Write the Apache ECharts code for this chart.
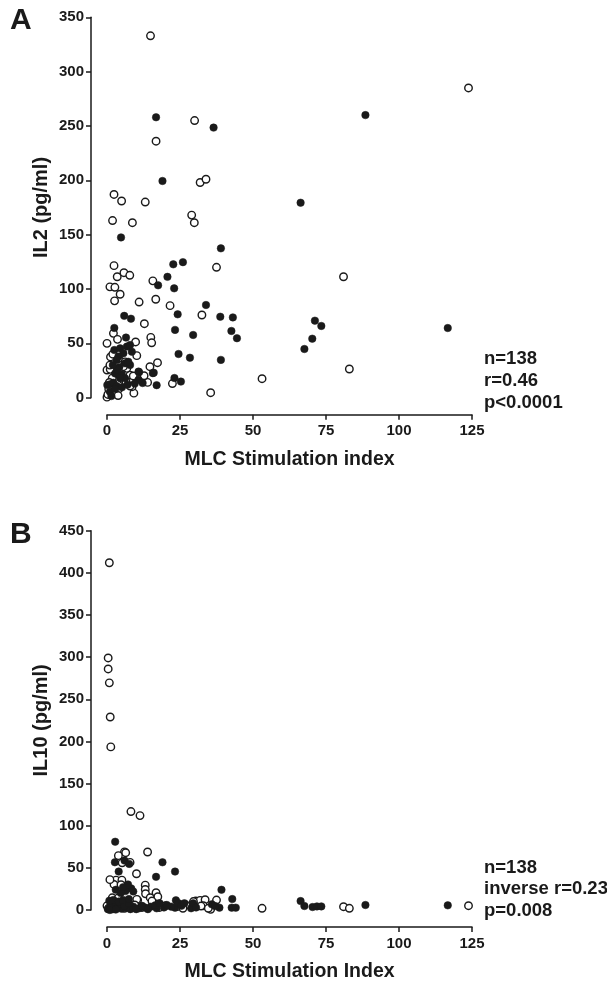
<!DOCTYPE html>
<html>
<head>
<meta charset="utf-8">
<script src="https://cdn.jsdelivr.net/npm/echarts@6/dist/echarts.min.js"></script>
<style>
html,body{margin:0;padding:0;background:#fff;}
#chart{width:607px;height:983px;}
</style>
</head>
<body>
<div id="chart"></div>
<script>
// ---------- Data ----------
const xTicks = [0, 25, 50, 75, 100, 125];
const il2Ticks = [0, 50, 100, 150, 200, 250, 300, 350];
const il10Ticks = [0, 50, 100, 150, 200, 250, 300, 350, 400, 450];

// Panel A: IL2 vs MLC stimulation index
const il2Open = [
  [14.9,333],[123.8,285],[30,255],[16.8,236],[31.9,198],[33.9,201],[2.4,187],[5,181],[13.1,180],
  [1.9,163],[8.7,161],[29,168],[29.9,161],[2.4,121.5],[37.5,120],[3.5,111.3],[5.8,115],[7.8,112.6],
  [81,111.3],[1,102],[2.7,101.6],[15.7,107.5],[4.5,95.2],[2.6,89.1],[16.7,90.6],[11,88],[21.6,84.7],
  [32.5,76.1],[12.8,68.1],[2.2,59.2],[3.6,53.7],[0,50],[9.8,51.3],[15,55.5],[15.3,50.5],[1.2,37.5],
  [10.2,38.7],[17.3,32.2],[0,25.5],[14.7,28.5],[83,26.4],[53.1,17.5],[22.4,13],[13.9,14.1],[35.5,4.6],
  [9.2,4.2],[8.6,10.1],[0,0.5],[0.3,3],[0.6,8],[7.9,10.7],[5.4,16.8],[7.9,20.8],[12.7,20.2],[6.8,27],
  [5.6,28.5],[1.1,26.1],[2,40],[4,36],[6.2,33],[1,30],[3,22],[1.8,18],[9,20],[2,5],[4,8],[6.5,15],
  [0.8,14],[3.8,2]
];
const il2Filled = [
  [88.5,260],[16.8,258],[36.5,248.5],[19,199.4],[66.3,179.4],[4.8,147.5],[39,137.4],[26,124.7],
  [22.7,122.7],[20.7,111.2],[17.5,103.4],[23,100.6],[33.9,85.3],[24.2,76.7],[5.9,75.3],[8.2,72.7],
  [38.8,74.5],[43.1,73.9],[71.2,70.9],[73.4,66],[116.7,64.1],[2.5,64.2],[23.3,62.4],[42.6,61.4],
  [29.5,57.7],[44.5,54.7],[6.5,55.3],[70.3,54.3],[67.6,44.8],[24.5,40.2],[28.4,36.8],[39,34.8],
  [16,23],[11,23.5],[23.1,18.1],[25.3,14.8],[17,11.5],[12.2,13.5],[8.5,42.3],[2.5,43.9],[4.5,45.4],
  [6.8,47],[7.9,48.5],[5.6,40.8],[3.9,37.8],[3.3,34.7],[6.2,31.6],[7.9,30.1],[7.3,33.1],[10.8,24],
  [15.7,22.6],[2.8,22.3],[5.1,21.4],[6.2,17.8],[10.8,16.5],[0.1,11.7],[1.06,12.3],[2.2,13.8],
  [3.3,10.7],[5.1,9.5],[1,5.5],[2.8,8],[4.2,28],[3.5,26],[9.5,13],[1.5,1.5],[7,12],[2,30],[4.5,18]
];

// Panel B: IL10 vs MLC stimulation index
const il10Open = [
  [0.8,412],[0.4,299],[0.4,286],[0.8,269.5],[1.1,229],[1.3,193.5],[8.2,116.8],[11.3,112],[13.9,68.8],
  [6,69],[6.4,68],[3.9,64.5],[5.2,56],[7.9,56.5],[10.1,43],[3.1,35.4],[5.1,35.4],[2.4,30.3],[1,36],
  [4.8,30],[13.1,29.5],[13.1,24.4],[13.2,19.3],[16.8,20.5],[17.4,15.7],[10.5,11.8],[14.8,14.6],
  [15.4,10.6],[30.4,10.6],[31.9,11.4],[33.6,12.2],[33,5.1],[35.5,0.8],[37.5,11.8],[53.1,2],[81,3.9],
  [83,2],[123.8,5.1],[1.8,14.5],[3.9,14.5],[10.2,12.6],[29.6,10],[32.2,4.7],[34.7,2],[0,5],[0.5,2],
  [1.5,8],[2.5,3],[4,6],[6,2],[7,9],[8.5,3],[9.5,6],[12,3],[20,5],[18,3],[24,4],[27,6],[26,2]
];
const il10Filled = [
  [2.8,81],[2.7,56.6],[6,58.6],[7.6,54.7],[4,45.6],[19,56.6],[23.3,45.6],[16.8,39.3],[39.2,24],
  [42.9,13],[8.3,25.6],[6.3,22.4],[4.7,20.1],[7.2,30.3],[66.3,10.6],[67.6,4.7],[70.4,3.5],[71.9,4.3],
  [73.4,4.3],[88.5,5.9],[116.7,5.5],[23.6,11.5],[23.3,2.7],[38.5,2.8],[42.7,2.8],[44.1,2.8],[35.9,6.7],
  [37,4.7],[24.5,8],[25.5,5],[28.8,2],[29.5,8],[22,4],[19.5,3],[17,2],[15,4],[13,3],[11,2],[9,4],
  [8,1],[6.5,3],[5,1.5],[3.5,4],[2,1],[1,3],[0.3,1],[1.5,6],[3,9],[4.5,7],[6,5],[7.5,8],[10,1],
  [12,5],[14,1],[16.5,5.5],[18,8],[20.5,6],[26.5,8],[30.5,3],[0.8,11],[2.2,12],[4,10],[5.5,12],
  [7.5,13],[3,24],[5.5,27],[9,22],[1,0],[3,0.5]
];

const panelLabels = ['A', 'B'];
const xTitles = ['MLC Stimulation index', 'MLC Stimulation Index'];
const yTitles = ['IL2 (pg/ml)', 'IL10 (pg/ml)'];
const statsA = ['n=138', 'r=0.46', 'p<0.0001'];
const statsB = ['n=138', 'inverse r=0.23', 'p=0.008'];

// ---------- Chart ----------
const FONT = '"Liberation Sans", Arial, Helvetica, sans-serif';
const INK = '#1a1a1a';
const chart = echarts.init(document.getElementById('chart'), null, {renderer: 'canvas'});

function xAxisCfg(gridIndex, title) {
  return {
    type: 'value', gridIndex, min: xTicks[0], max: xTicks[xTicks.length - 1],
    interval: xTicks[1] - xTicks[0], offset: 17,
    name: title, nameLocation: 'middle', nameGap: 35, nameMoveOverlap: false,
    nameTextStyle: {fontFamily: FONT, fontWeight: 'bold', fontSize: 19.5, color: INK},
    axisLine: {show: true, onZero: false, lineStyle: {color: INK, width: 1.5}},
    axisTick: {show: true, inside: false, length: 5, lineStyle: {color: INK, width: 1.5}},
    axisLabel: {fontFamily: FONT, fontWeight: 'bold', fontSize: 15, color: INK, margin: 9},
    splitLine: {show: false}
  };
}
function yAxisCfg(gridIndex, title, ticks) {
  return {
    type: 'value', gridIndex, min: ticks[0], max: ticks[ticks.length - 1],
    interval: ticks[1] - ticks[0], offset: 16,
    name: title, nameLocation: 'middle', nameGap: 40, nameRotate: 90, nameMoveOverlap: false,
    nameTextStyle: {fontFamily: FONT, fontWeight: 'bold', fontSize: 20, color: INK},
    axisLine: {show: true, onZero: false, lineStyle: {color: INK, width: 1.5}},
    axisTick: {show: true, inside: false, length: 5, lineStyle: {color: INK, width: 1.5}},
    axisLabel: {fontFamily: FONT, fontWeight: 'bold', fontSize: 15, color: INK, margin: 7},
    splitLine: {show: false}
  };
}
function openSeries(data, i) {
  return {type: 'scatter', xAxisIndex: i, yAxisIndex: i, data, symbol: 'circle', symbolSize: 7.5,
    clip: false, itemStyle: {color: '#fff', borderColor: INK, borderWidth: 1.4, opacity: 1}, silent: true};
}
function filledSeries(data, i) {
  return {type: 'scatter', xAxisIndex: i, yAxisIndex: i, data, symbol: 'circle', symbolSize: 7.5,
    clip: false, itemStyle: {color: INK, borderColor: INK, borderWidth: 0.5, opacity: 1}, silent: true};
}

const option = {
  backgroundColor: '#fff',
  animation: false,
  grid: [
    {left: 107, width: 365, top: 17.3, height: 380.4},
    {left: 107, width: 365, top: 530.7, height: 381.6}
  ],
  xAxis: [xAxisCfg(0, xTitles[0]), xAxisCfg(1, xTitles[1])],
  yAxis: [yAxisCfg(0, yTitles[0], il2Ticks), yAxisCfg(1, yTitles[1], il10Ticks)],
  series: [
    openSeries(il2Open, 0), filledSeries(il2Filled, 0),
    openSeries(il10Open, 1), filledSeries(il10Filled, 1)
  ],
  graphic: [
    {type: 'text', left: 10, top: 6, style: {text: panelLabels[0], font: 'bold 30px ' + FONT, fill: INK}},
    {type: 'text', left: 10, top: 520, style: {text: panelLabels[1], font: 'bold 30px ' + FONT, fill: INK}},
    {type: 'text', left: 484, top: 348, style: {text: statsA.join('\n'), font: 'bold 18.5px ' + FONT, lineHeight: 22, fill: INK}},
    {type: 'text', left: 484, top: 857, style: {text: statsB.join('\n'), font: 'bold 18.5px ' + FONT, lineHeight: 21.5, fill: INK}}
  ]
};
chart.setOption(option);
</script>
</body>
</html>
